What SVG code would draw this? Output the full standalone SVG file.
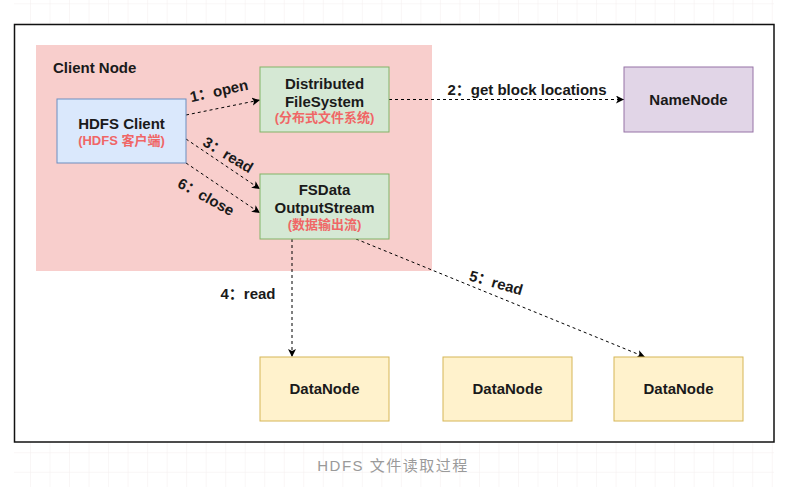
<svg xmlns="http://www.w3.org/2000/svg" width="787" height="487" viewBox="0 0 787 487">
<style>
text{font-family:"Liberation Sans","Noto Sans CJK SC",Arial,sans-serif;font-weight:bold;fill:#1a1a1a}
.t{font-size:15px;text-anchor:middle}
.zh{font-size:13px;text-anchor:middle;fill:#f06666}
.lbl{font-size:15px;text-anchor:middle}
.edge{fill:none;stroke:#000;stroke-width:1;stroke-dasharray:3 3}
.green{fill:#d5e8d4;stroke:#82b366;stroke-width:1}
.yellow{fill:#fff2cc;stroke:#d6b656;stroke-width:1}
</style>
<defs>
<pattern id="grid" patternUnits="userSpaceOnUse" x="30" y="3.3" width="19.52" height="19.52">
<path d="M0,0 H19.52 M0,0 V19.52" fill="none" stroke="#f4eeee" stroke-width="1"/>
</pattern>
<marker id="arr" markerUnits="userSpaceOnUse" markerWidth="10" markerHeight="9" refX="8" refY="4" orient="auto">
<path d="M0,0 L8,4 L0,8 L2,4 z" fill="#000"/>
</marker>
</defs>
<rect x="0" y="0" width="787" height="487" fill="#fff"/>
<rect x="14" y="0" width="760" height="487" fill="url(#grid)"/>
<rect x="14.5" y="24.5" width="759.5" height="417.5" fill="#fff" stroke="#111" stroke-width="1.5"/>

<g id="client-node">
<rect x="36" y="45" width="396" height="226" fill="#f8cecc"/>
<text x="53" y="73" style="font-size:15px">Client Node</text>
</g>

<g id="connectors">
<path class="edge" d="M186,115 L260,100" marker-end="url(#arr)"/>
<path class="edge" d="M389,99.5 L624,99.5" marker-end="url(#arr)"/>
<path class="edge" d="M186,139 L260,189" marker-end="url(#arr)"/>
<path class="edge" d="M186,163 L260,213" marker-end="url(#arr)"/>
<path class="edge" d="M292,239 L292,357" marker-end="url(#arr)"/>
<path class="edge" d="M356,239 L645,357" marker-end="url(#arr)"/>
<text class="lbl" transform="translate(219,91) rotate(-12.5)" y="5">1：open</text>
<text class="lbl" x="527" y="95">2：get block locations</text>
<text class="lbl" transform="translate(228,155) rotate(31)" y="5">3：read</text>
<text class="lbl" x="248" y="299">4：read</text>
<text class="lbl" transform="translate(496,283) rotate(16)" y="5">5：read</text>
<text class="lbl" transform="translate(206,197) rotate(29)" y="5">6：close</text>
</g>

<g id="hdfs-client">
<rect x="57" y="99" width="129" height="64" fill="#dae8fc" stroke="#6c8ebf"/>
<text class="t" x="121.5" y="129">HDFS Client</text>
<text class="zh" x="121.5" y="145">(HDFS 客户端)</text>
</g>

<g id="distributed-fs">
<rect class="green" x="260" y="67" width="129" height="65"/>
<text class="t" x="324.5" y="89">Distributed</text>
<text class="t" x="324.5" y="106.5">FileSystem</text>
<text class="zh" x="324.5" y="122">(分布式文件系统)</text>
</g>

<g id="fsdata-stream">
<rect class="green" x="260" y="174" width="129" height="65"/>
<text class="t" x="324.5" y="195">FSData</text>
<text class="t" x="324.5" y="212.5">OutputStream</text>
<text class="zh" x="324.5" y="229">(数据输出流)</text>
</g>

<g id="namenode">
<rect x="624" y="67" width="129" height="65" fill="#e1d5e7" stroke="#9673a6"/>
<text class="t" x="688.5" y="105">NameNode</text>
</g>

<g id="datanode1">
<rect class="yellow" x="260" y="357" width="129" height="64"/>
<text class="t" x="324.5" y="394">DataNode</text>
</g>
<g id="datanode2">
<rect class="yellow" x="443" y="357" width="129" height="64"/>
<text class="t" x="507.5" y="394">DataNode</text>
</g>
<g id="datanode3">
<rect class="yellow" x="614" y="357" width="129" height="64"/>
<text class="t" x="678.5" y="394">DataNode</text>
</g>

<text x="393" y="471" style="font-size:15px;font-weight:normal;fill:#9a9a9a;text-anchor:middle;letter-spacing:1.5px">HDFS 文件读取过程</text>
</svg>
